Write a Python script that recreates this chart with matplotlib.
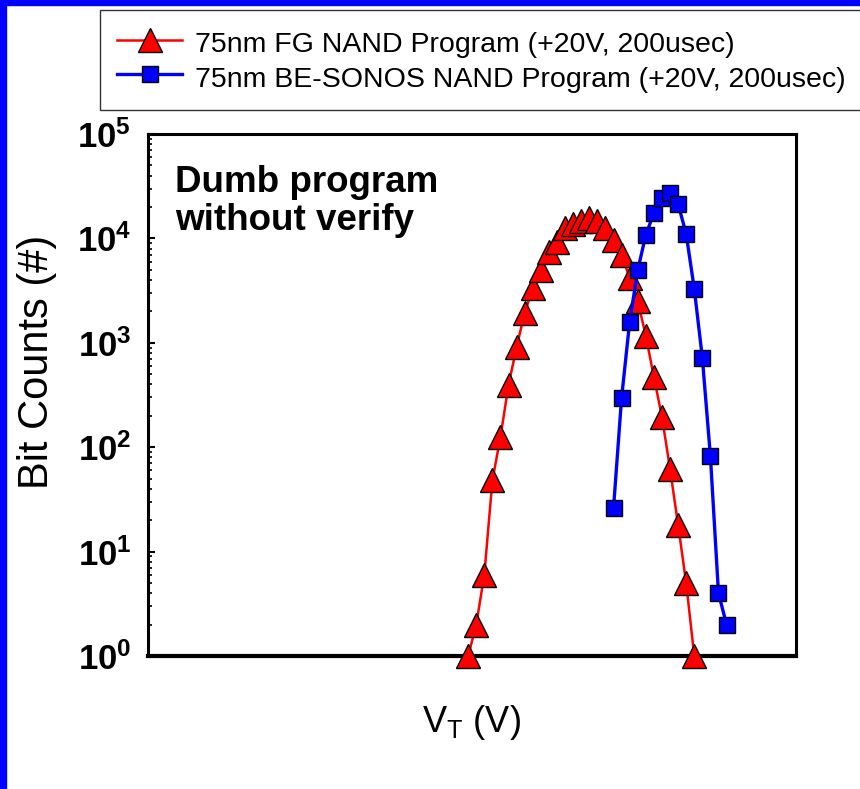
import matplotlib
matplotlib.use("Agg")
import matplotlib.pyplot as plt
from matplotlib.patches import Rectangle
from matplotlib.ticker import FixedLocator, LogLocator, NullFormatter

plt.rcParams['font.family'] = ['Liberation Sans', 'DejaVu Sans']
plt.rcParams['mathtext.fontset'] = 'custom'
plt.rcParams['mathtext.rm'] = 'Liberation Sans'
plt.rcParams['mathtext.bf'] = 'Liberation Sans:bold'

# threshold voltage (arbitrary V scale, no tick labels on the original)
fg_vt = [4.0, 4.1, 4.2, 4.3, 4.4, 4.5, 4.6, 4.7, 4.8, 4.9, 5.0, 5.1, 5.2, 5.3, 5.4,
         5.5, 5.6, 5.7, 5.8, 5.9, 6.0, 6.1, 6.2, 6.3, 6.4, 6.5, 6.6, 6.7, 6.8]
fg_counts = [1, 2, 6, 48, 125, 395, 910, 1940, 3340, 4970, 7400, 9300, 12600, 13700, 14700,
             15800, 14700, 12600, 9600, 6900, 4200, 2500, 1170, 470, 195, 62, 18, 5, 1]

sonos_vt = [5.8, 5.9, 6.0, 6.1, 6.2, 6.3, 6.4, 6.5, 6.6, 6.7, 6.8, 6.9, 7.0, 7.1, 7.2]
sonos_counts = [26, 296, 1590, 4970, 10800, 17500, 24500, 27000, 21400, 11000, 3300, 720, 82, 4, 2]

fg_label = "75nm FG NAND Program (+20V, 200usec)"
sonos_label = "75nm BE-SONOS NAND Program (+20V, 200usec)"

fig = plt.figure(figsize=(8.6, 7.89), dpi=100)
ax = fig.add_axes([148/860, 1-656/789, (796-148)/860, (656-134)/789])

ax.plot(fg_vt, fg_counts, color='red', lw=1.8, marker='^', ms=17,
        mfc='red', mec='black', mew=1.0, label=fg_label, zorder=3)
ax.plot(sonos_vt, sonos_counts, color='blue', lw=2.4, marker='s', ms=11.5,
        mfc='blue', mec='black', mew=1.0, label=sonos_label, zorder=4)

ax.set_yscale('log')
ax.set_ylim(1, 1e5)
ax.set_xlim(0.035, 8.06)
ax.yaxis.set_major_locator(FixedLocator([1, 10, 100, 1e3, 1e4, 1e5]))
ax.set_yticklabels([r'$\mathbf{10^{%d}}$' % i for i in range(6)], fontsize=25)
ax.yaxis.set_minor_locator(LogLocator(base=10, subs=range(2, 10)))
ax.yaxis.set_minor_formatter(NullFormatter())
ax.tick_params(axis='y', which='major', direction='in', length=5, width=1.5, pad=12)
ax.tick_params(axis='y', which='minor', direction='in', length=3, width=1.2)
ax.set_xticks([])
for s in ax.spines.values():
    s.set_linewidth(2.2)
ax.spines['bottom'].set_linewidth(3)
for ln in ax.lines:
    ln.set_clip_on(False)

ax.text(0.042, 0.94, "Dumb program\nwithout verify", transform=ax.transAxes,
        fontsize=26.5, fontweight='bold', ha='left', va='top', linespacing=1.1)

fig.text(37/860, 1-362/789, "Bit Counts (#)", rotation=90, fontsize=30,
         ha='center', va='center')
fig.text(471/860, 1-722/789, r"V$_\mathregular{T}$ (V)", fontsize=26,
         ha='center', va='center')

leg = fig.legend(loc='upper left', bbox_to_anchor=(100/860, 1-10/789),
                 fontsize=20.5, frameon=True, fancybox=False, edgecolor='black',
                 handlelength=2.3, handleheight=1.35, handletextpad=0.45,
                 borderpad=0.59, labelspacing=0.09, borderaxespad=0)
leg.get_frame().set_linewidth(1.0)

# blue slide frame on the left and top edges
fig.patches.append(Rectangle((0, 0), 6/860, 1, transform=fig.transFigure,
                             color='blue', zorder=10))
fig.patches.append(Rectangle((0, 1-5/789), 1, 5/789, transform=fig.transFigure,
                             color='blue', zorder=10))

fig.savefig('out.png', dpi=100)
